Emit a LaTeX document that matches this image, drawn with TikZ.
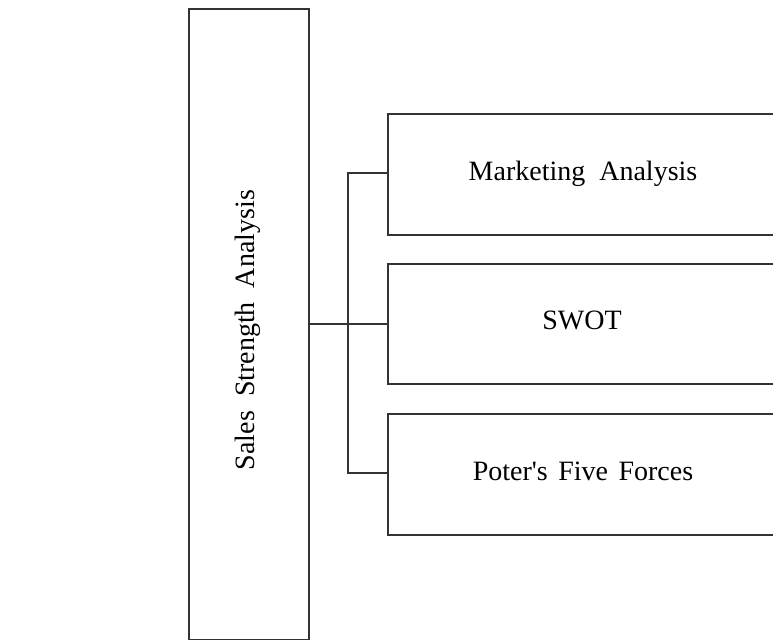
\documentclass[tikz,border=0pt]{standalone}
\usepackage{fontspec}
\setmainfont{Liberation Serif}
\begin{document}
\begin{tikzpicture}[x=1pt,y=-1pt,
  boxline/.style={draw=black!80,line width=1.8pt},
  panel/.style={boxline,rectangle,inner sep=0pt,anchor=north west},
  label/.style={font=\fontsize{28}{32}\selectfont,text=black,inner sep=0pt},
  wire/.style={draw=black!80,line width=1.8pt}]
\useasboundingbox (0,0) rectangle (773,640);
\clip (0,0) rectangle (773,640);
% main vertical panel
\node[panel,minimum width=120pt,minimum height=630.5pt] (main) at (188,8) {};
\node[label,rotate=90] (maintext) at (248,330) {Sales\ \ Strength\ \ Analysis};
% three branch panels, running off the right edge
\node[panel,minimum width=420pt,minimum height=121.3pt] (mkt) at (387,112.7) {};
\node[panel,minimum width=420pt,minimum height=120pt] (swot) at (387,263.3) {};
\node[panel,minimum width=420pt,minimum height=121pt] (poter) at (387,413.3) {};
\node[label,anchor=base] (mkttext) at (583,180.7) {Marketing\ \ Analysis};
\node[label,anchor=base] (swottext) at (582,329) {SWOT};
\node[label,anchor=base] (potertext) at (583,480.7) {Poter\textquotesingle s\hspace{3.5pt} Five\hspace{3.5pt} Forces};
% bracket connector
\coordinate (j1) at (348,173.3);
\coordinate (j3) at (348,473.3);
\draw[wire] (main.east |- swot.west) -- (swot.west);
\draw[wire] (mkt.west |- j1) -- (j1) -- (j3) -- (poter.west |- j3);
\end{tikzpicture}
\end{document}
